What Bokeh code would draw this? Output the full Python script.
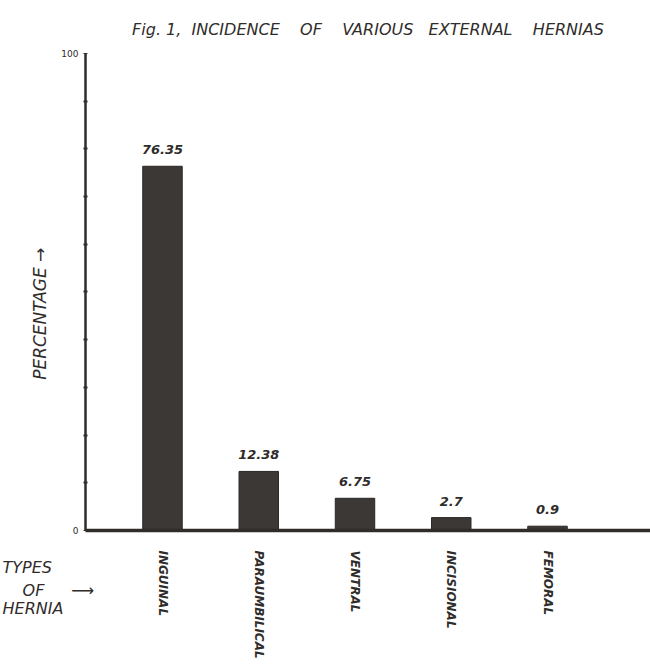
import numpy as np
from bokeh.plotting import figure
from bokeh.models import Range1d, FixedTicker, Label, ColumnDataSource
from bokeh.embed import file_html
from bokeh.resources import INLINE
from bokeh.core.properties import value

# ---- data ----
categories = ["INGUINAL", "PARAUMBILICAL", "VENTRAL", "INCISIONAL", "FEMORAL"]
percentages = [76.35, 12.38, 6.75, 2.7, 0.9]
value_labels = ["76.35", "12.38", "6.75", "2.7", "0.9"]
y_ticks = [0, 100]
y_minor = [10, 20, 30, 40, 50, 60, 70, 80, 90]
title_text = "Fig. 1,\u00a0 INCIDENCE\u00a0 \u00a0 OF\u00a0 \u00a0 VARIOUS\u00a0 \u00a0EXTERNAL\u00a0 \u00a0 HERNIAS"

INK = "#2f2c2a"
FONT = "DejaVu Sans"

xs = np.arange(len(categories)) + 0.5
src = ColumnDataSource(dict(x=xs, top=percentages, lab=value_labels))

X0, X1 = -1.183, 5.57     # whole canvas width in category units
Y0, Y1 = -28.72, 111.1    # whole canvas height in percent units
AXIS_X = -0.3             # where the y axis stands

p = figure(width=650, height=667, output_backend="svg", toolbar_location=None,
           x_range=Range1d(X0, X1), y_range=Range1d(Y0, Y1),
           min_border=0, background_fill_color="white",
           border_fill_color="white", outline_line_color=None)
p.grid.visible = False

p.vbar(x="x", top="top", width=0.41, bottom=0, source=src,
       fill_color="#3b3835", line_color="#2a2725", line_width=1)
p.text(x="x", y="top", text="lab", source=src, text_align="center",
       text_baseline="bottom", y_offset=-12, text_font=value(FONT),
       text_font_style="bold italic", text_font_size="13px", text_color=INK)

# y axis, standing at AXIS_X, from 0 to 100
ya = p.yaxis[0]
ya.fixed_location = AXIS_X
ya.bounds = (0, 100)
ya.ticker = FixedTicker(ticks=y_ticks, minor_ticks=y_minor)
ya.axis_line_width = 2.5
ya.axis_line_color = INK
ya.major_tick_in = 2
ya.major_tick_out = 2
ya.minor_tick_in = 2
ya.minor_tick_out = 2
ya.minor_tick_line_width = 2
ya.major_tick_line_color = INK
ya.minor_tick_line_color = INK
ya.major_label_text_font = FONT
ya.major_label_text_font_size = "9px"
ya.major_label_text_color = INK
ya.major_label_standoff = 5

# x axis (baseline) at 0
xa = p.xaxis[0]
xa.fixed_location = 0
xa.bounds = (AXIS_X, X1)
xa.ticker = FixedTicker(ticks=list(xs))
xa.major_label_overrides = {float(x): c for x, c in zip(xs, categories)}
xa.major_label_orientation = -np.pi / 2
xa.axis_line_width = 3.5
xa.axis_line_color = INK
xa.major_tick_line_color = None
xa.minor_tick_line_color = None
xa.major_label_text_font = FONT
xa.major_label_text_font_style = "bold italic"
xa.major_label_text_font_size = "12px"
xa.major_label_text_color = INK
xa.major_label_standoff = 14

# title
p.add_layout(Label(x=(AXIS_X + X1) / 2, y=105.0, text=title_text,
                   text_align="center", text_baseline="middle",
                   text_font=FONT, text_font_style="italic",
                   text_font_size="16px", text_color=INK))
# y label
p.add_layout(Label(x=-0.77, y=46, text="PERCENTAGE  \u2192", angle=np.pi / 2,
                   text_align="center", text_baseline="middle",
                   text_font=FONT, text_font_style="italic",
                   text_font_size="17px", text_color=INK))
# "TYPES OF HERNIA ->"
for t, xx, yy in zip(["TYPES", "OF", "HERNIA"], [-1.162, -0.954, -1.162],
                     [-7.8, -12.6, -16.3]):
    p.add_layout(Label(x=xx, y=yy, text=t, text_align="left",
                       text_baseline="middle", text_font=FONT,
                       text_font_style="italic", text_font_size="16px",
                       text_color=INK))
p.add_layout(Label(x=-0.33, y=-12.6, text="\u27f6", text_align="center",
                   text_baseline="middle", text_font=FONT,
                   text_font_size="16px", text_color=INK))

open("out.html", "w").write(file_html(p, INLINE))
